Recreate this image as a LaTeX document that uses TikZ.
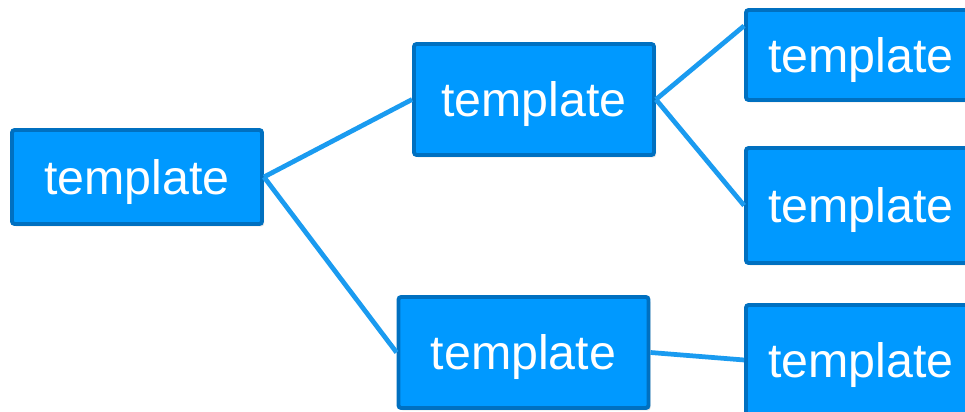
\documentclass[tikz,border=0pt]{standalone}
\usepackage{fontspec}
\setmainfont{Liberation Sans}
\usepackage{tikz}
\usetikzlibrary{shadows}

\definecolor{boxfill}{HTML}{0099FF}
\definecolor{boxline}{HTML}{0070C0}
\definecolor{link}{HTML}{1A9BF0}

\begin{document}
\begin{tikzpicture}[
		line width=0.25mm,
		every node/.style={text=white, font=\fontsize{27.5}{32}\selectfont},
		tbox/.style={fill=boxfill, draw=boxline, line width=2.2pt, rounded corners=1.5pt,
			minimum width=4.8cm, inner sep=0pt, text depth=0pt,
			drop shadow={opacity=0.25, shadow xshift=0.04, shadow yshift=-0.05}},
		wide/.style={minimum width=5cm},
		leaf/.style={minimum width=4.6cm},
		branch/.style={link, line width=2.7pt}
		]
	
	\useasboundingbox (0, 0) rectangle (19.3, 8.24);
	
	% Root
	\node[tbox, wide, minimum height=1.88cm] (root) at (2.74, 4.70) {template};
	
	% Middle level
	\node[tbox, minimum height=2.22cm] (upper) at (10.68, 6.25) {template};
	\node[tbox, wide, minimum height=2.22cm] (lower) at (10.47, 1.19) {template};
	
	% Leaves
	\node[tbox, leaf, minimum height=1.80cm] (leafa) at (17.22, 7.14) {template};
	\node[tbox, leaf, minimum height=2.30cm] (leafb) at (17.22, 4.13) {template};
	\node[tbox, leaf, minimum height=2.20cm] (leafc) at (17.22, 1.04) {template};
	
	% Links
	\draw[branch] (root.east) -- (upper.west);
	\draw[branch] (root.east) -- (lower.west);
	\draw[branch] (upper.east) -- (leafa.166);
	\draw[branch] (upper.east) -- (leafb.west);
	\draw[branch] (lower.east) -- (leafc.west);
	
\end{tikzpicture}
\end{document}
